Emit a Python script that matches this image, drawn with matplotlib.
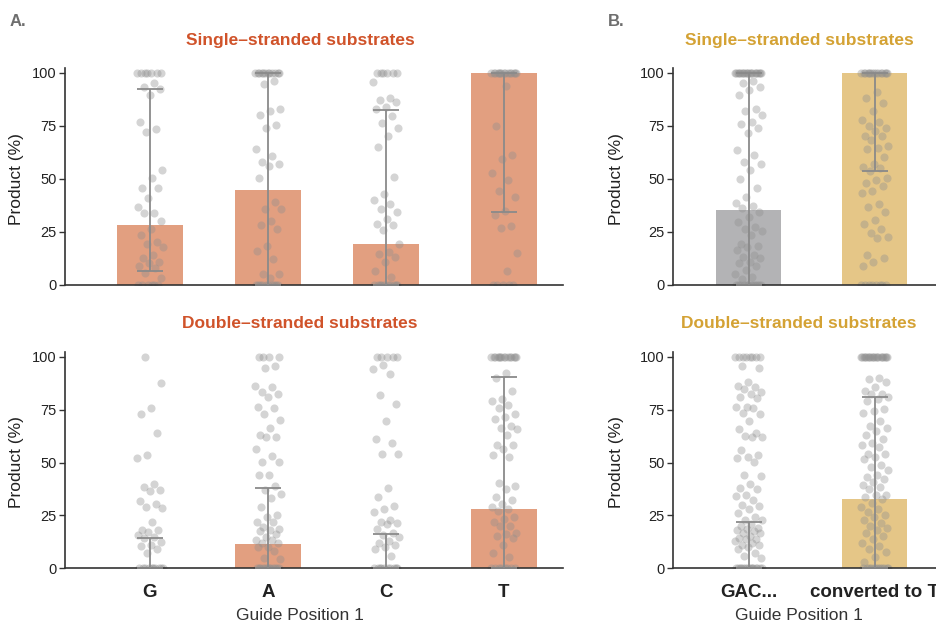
import matplotlib
matplotlib.use("Agg")
import matplotlib.pyplot as plt
import numpy as np

plt.rcParams['font.family'] = ['Liberation Sans', 'DejaVu Sans']

# ---- panel A : guide position 1 base ----
a_cats = ['G', 'A', 'C', 'T']

a_ss_bar = [28.2, 44.7, 19.2, 100.0]
a_ss_lo = [6.4, 0.0, 0.0, 34.4]
a_ss_hi = [92.3, 100.0, 82.4, 100.0]

a_ds_bar = [0.0, 11.5, 0.0, 28.0]
a_ds_lo = [0.0, 0.0, 0.0, 0.0]
a_ds_hi = [14.5, 38.1, 16.1, 90.6]

a_ss_G = [100, 100, 100, 100, 100, 100, 100, 95.1, 93, 92.2, 89.6, 76.8, 73.6, 72.2,
          54.2, 50.2, 45.5, 45.5, 41.1, 36.9, 33.8, 33.8, 30, 26.2, 23.5, 20.4, 19.2,
          18, 14.1, 12.9, 11, 10.2, 9.1, 8, 5.5, 3.5, 0, 0, 0, 0, 0, 0]
a_ss_A = [100, 100, 100, 100, 100, 100, 100, 100, 100, 100, 100, 100, 96.2, 94.7,
          82.9, 82, 80, 75.5, 74.1, 64, 60.8, 58, 57.1, 56, 50.2, 38.9, 35.8, 35.8,
          30.1, 28.3, 26.2, 18.2, 16.2, 12.4, 5, 5, 3.5,
          0, 0, 0, 0, 0, 0, 0, 0, 0, 0]
a_ss_C = [100, 100, 100, 100, 100, 100, 95.6, 87.8, 87.3, 86, 83.7, 82.9, 79.6, 76.1,
          73.8, 70, 64.8, 51, 42.9, 40, 38, 35.8, 34.4, 30.9, 28.9, 28.1, 25.7, 19.5,
          15.4, 14.6, 13, 11, 6.4, 3.6, 0, 0, 0, 0, 0, 0, 0, 0, 0, 0]
a_ss_T = [100, 100, 100, 100, 100, 100, 100, 100, 100, 100, 100, 100, 100, 100, 100,
          93.7, 74.9, 61.2, 59.2, 52.9, 49.3, 44.4, 41.3, 35, 33, 27.9, 26.7, 15.2,
          6.6, 0, 0, 0, 0, 0]

a_ds_G = [100, 87.6, 75.9, 73.1, 63.8, 53.7, 52.1, 40, 38.3, 37, 36.4, 32, 30.6, 29,
          28.3, 22, 18.1, 18.1, 17, 15.9, 15, 14.2, 12.6, 11, 10.4, 9, 7.1,
          0, 0, 0, 0, 0, 0, 0, 0, 0, 0]
a_ds_A = [100, 100, 100, 100, 95.4, 94.8, 86.1, 85.5, 83.5, 82.2, 81.1, 76.4, 75.6,
          72.8, 70.1, 66.3, 63, 62.2, 61.9, 56.4, 53.1, 50.2, 50.2, 44.3, 44.3, 39,
          37, 35, 33.1, 29.1, 25, 24.1, 22, 22, 19.7, 18.7, 18.1, 17.8, 16, 15, 13.4,
          13.4, 12.1, 12.1, 10.1, 10.1, 8.2, 5, 4.6,
          0, 0, 0, 0, 0, 0, 0, 0, 0, 0, 0, 0]
a_ds_C = [100, 100, 100, 100, 100, 96.2, 94.3, 91.7, 81.7, 77.6, 69.8, 61.1, 59.1,
          53.9, 53.9, 37.8, 33.9, 29.4, 27.9, 26.6, 22.8, 22, 21.6, 20.9, 18.4, 16.5,
          15.7, 15, 12.9, 11.8, 11, 9.9, 9, 6, 0, 0, 0, 0, 0, 0, 0, 0, 0, 0]
a_ds_T = [100, 100, 100, 100, 100, 100, 100, 100, 100, 100, 100, 100, 100, 100, 100,
          92.1, 90, 83.9, 80, 78.9, 77, 75.9, 72.9, 71.7, 70.7, 67.2, 66.5, 65.8, 63.1,
          58.1, 58.1, 56.2, 53.7, 52.6, 40.5, 38.9, 37.6, 33.9, 32.3, 30.2, 29.1, 27.9,
          27.1, 24.4, 23.1, 21.9, 20.2, 20, 16.9, 16.2, 15.4, 14.2, 11, 7.1, 5.5,
          0, 0, 0, 0, 0, 0, 0, 0]

# ---- panel B : GAC... vs converted to T ----
b_cats = ['GAC...', 'converted to T']

b_ss_bar = [35.3, 100.0]
b_ss_lo = [0.0, 53.7]
b_ss_hi = [100.0, 100.0]

b_ds_bar = [0.0, 32.8]
b_ds_lo = [0.0, 0.0]
b_ds_hi = [22.0, 81.0]

b_ss_gac = [100, 100, 100, 100, 100, 100, 100, 100, 100, 100, 100, 100, 100, 100, 100,
            100, 100, 100, 100, 100, 95.8, 95.3, 93.1, 91.8, 89.5, 83, 82, 80, 76.6,
            75.8, 74.1, 71.7, 63.7, 61.2, 58.1, 57, 54.2, 49.8, 45.8, 41.6, 38.5, 37.4,
            36.1, 34.2, 32.2, 29.5, 27.5, 26.2, 25.3, 23.5, 19.5, 18.5, 17.9, 16.5,
            14.1, 13.3, 12.6, 11, 10.2, 9.1, 7.1, 5.2, 3.9, 3,
            0, 0, 0, 0, 0, 0, 0, 0, 0, 0, 0, 0]
b_ss_conv = [100, 100, 100, 100, 100, 100, 100, 100, 100, 100, 100, 100, 100, 100, 100,
             90.7, 87.8, 85.9, 82, 77.7, 76.9, 74.9, 73.8, 72.5, 70.2, 69.9, 68.3, 65.5,
             64.5, 64, 60.1, 57, 55.4, 54.9, 53.7, 50.5, 49.5, 48.2, 46.8, 44.3, 43.2,
             38, 36.6, 34.2, 30.5, 28.6, 26.2, 24.3, 22.8, 22.1, 14, 12.9, 11, 8.9,
             0, 0, 0, 0, 0, 0, 0, 0]

b_ds_gac = [100, 100, 100, 100, 100, 100, 100, 100, 95.6, 94.8, 88, 86.1, 85.5, 84.6,
            83.1, 82.4, 81.1, 80.3, 76.1, 76.1, 75.6, 73.2, 72.8, 69.8, 66, 64.1, 62.7,
            61.9, 61.9, 56.1, 53.5, 52.4, 52, 50.1, 44.1, 43.8, 40, 38.1, 37.3, 34.8,
            34.2, 32.3, 30.1, 29.6, 27.9, 26, 24.1, 22.8, 22.8, 20.9, 20.2, 18.9, 18.4,
            18.1, 17.5, 16.5, 16.5, 15.4, 14.5, 13.7, 13.7, 12.9, 12.1, 11, 11, 9.9, 9,
            7.1, 6, 5, 0, 0, 0, 0, 0, 0, 0, 0, 0, 0, 0, 0, 0, 0, 0]
b_ds_conv = [100, 100, 100, 100, 100, 100, 100, 100, 100, 100, 100, 100, 100, 100, 100,
             100, 100, 100, 100, 100, 90.1, 89.3, 88.2, 85.7, 83.9, 82.2, 82.2, 80.8, 80,
             79.1, 75.4, 74.3, 73.2, 69.8, 67.2, 66.5, 65, 63.1, 61.3, 59.4, 58.1, 57.2,
             54, 54, 52.4, 51.5, 48.8, 48, 46.5, 44.1, 43, 42, 40.6, 39.2, 38.3, 37.3,
             34.8, 34.8, 33.9, 32.6, 31, 29.1, 28, 26.5, 25.2, 24.1, 22.8, 21.6, 20.2,
             18.9, 18.1, 16.5, 15.4, 14, 12.1, 10.6, 9, 7.6, 5.5, 3.1,
             0, 0, 0, 0, 0, 0, 0, 0, 0, 0, 0, 0]

A_COL = '#E29F80'
A_TITLE = '#D0532A'
B_COLS = ['#B3B3B5', '#E5C687']
B_TITLE = '#D4A234'
PT_COL = '#8f8f8f'
ERR_COL = '#8a8a8a'
W, H = 936, 625


def jitter(n, width):
    # deterministic spread (golden-ratio sequence) for the point cloud
    k = np.arange(n)
    return ((k * 0.618034 + 0.31) % 1.0 - 0.5) * 2 * width


def draw(ax, cats, bars, lo, hi, groups, colors, barw, xlim, show_x):
    x = np.arange(len(cats))
    ax.bar(x, bars, width=barw, color=colors, zorder=1)
    for i, vals in enumerate(groups):
        ax.scatter(i + jitter(len(vals), 0.11), vals, s=34, color=PT_COL,
                   alpha=0.38, linewidths=0, zorder=2)
    yerr = [np.array(bars) - np.array(lo), np.array(hi) - np.array(bars)]
    ax.errorbar(x, bars, yerr=yerr, fmt='none', ecolor=ERR_COL, elinewidth=1.3,
                capsize=9.5, capthick=1.3, zorder=3)
    ax.set_xlim(*xlim)
    ax.set_ylim(0, 102)
    ax.set_yticks([0, 25, 50, 75, 100])
    ax.spines['top'].set_visible(False)
    ax.spines['right'].set_visible(False)
    for s in ('left', 'bottom'):
        ax.spines[s].set_color('#333333')
        ax.spines[s].set_linewidth(1.2)
    ax.tick_params(axis='y', length=4, width=1, color='#333333', labelsize=10.5,
                   labelcolor='#222222', pad=2)
    ax.set_xticks(x)
    if show_x:
        ax.set_xticklabels(cats, fontsize=13.5, fontweight='bold', color='#222222')
        ax.tick_params(axis='x', length=0, pad=11)
    else:
        ax.set_xticklabels([])
        ax.tick_params(axis='x', length=0)


fig = plt.figure(figsize=(W / 100, H / 100), dpi=100)

ax_a1 = fig.add_axes([65 / W, 1 - 285 / H, 498 / W, 216.7 / H])
ax_a2 = fig.add_axes([65 / W, 1 - 568.3 / H, 498 / W, 215.8 / H])
ax_b1 = fig.add_axes([673 / W, 1 - 285 / H, 264.6 / W, 216.7 / H])
ax_b2 = fig.add_axes([673 / W, 1 - 568.3 / H, 264.6 / W, 215.8 / H])

draw(ax_a1, a_cats, a_ss_bar, a_ss_lo, a_ss_hi, [a_ss_G, a_ss_A, a_ss_C, a_ss_T],
     A_COL, 0.56, (-0.72, 3.5), False)
draw(ax_a2, a_cats, a_ds_bar, a_ds_lo, a_ds_hi, [a_ds_G, a_ds_A, a_ds_C, a_ds_T],
     A_COL, 0.56, (-0.72, 3.5), True)
draw(ax_b1, b_cats, b_ss_bar, b_ss_lo, b_ss_hi, [b_ss_gac, b_ss_conv],
     B_COLS, 0.51, (-0.6, 1.5), False)
draw(ax_b2, b_cats, b_ds_bar, b_ds_lo, b_ds_hi, [b_ds_gac, b_ds_conv],
     B_COLS, 0.51, (-0.6, 1.5), True)

# panel letters and titles
fig.text(10 / W, 1 - 21.5 / H, 'A.', fontsize=12, fontweight='bold', color='#6e6e6e',
         ha='left', va='center')
fig.text(608 / W, 1 - 21.5 / H, 'B.', fontsize=12, fontweight='bold', color='#6e6e6e',
         ha='left', va='center')
for xc, col in ((300, A_TITLE), (799, B_TITLE)):
    fig.text(xc / W, 1 - 41 / H, 'Single\u2013stranded substrates', fontsize=12.5,
             fontweight='bold', color=col, ha='center', va='center')
    fig.text(xc / W, 1 - 324 / H, 'Double\u2013stranded substrates', fontsize=12.5,
             fontweight='bold', color=col, ha='center', va='center')
    fig.text(xc / W, 1 - 615 / H, 'Guide Position 1', fontsize=12.5, color='#333333',
             ha='center', va='center')

for xl in (17, 617):
    for yc in (179, 462):
        fig.text(xl / W, 1 - yc / H, 'Product (%)', fontsize=12.5, color='#222222',
                 rotation=90, ha='center', va='center')

fig.savefig('out.png', dpi=100)
